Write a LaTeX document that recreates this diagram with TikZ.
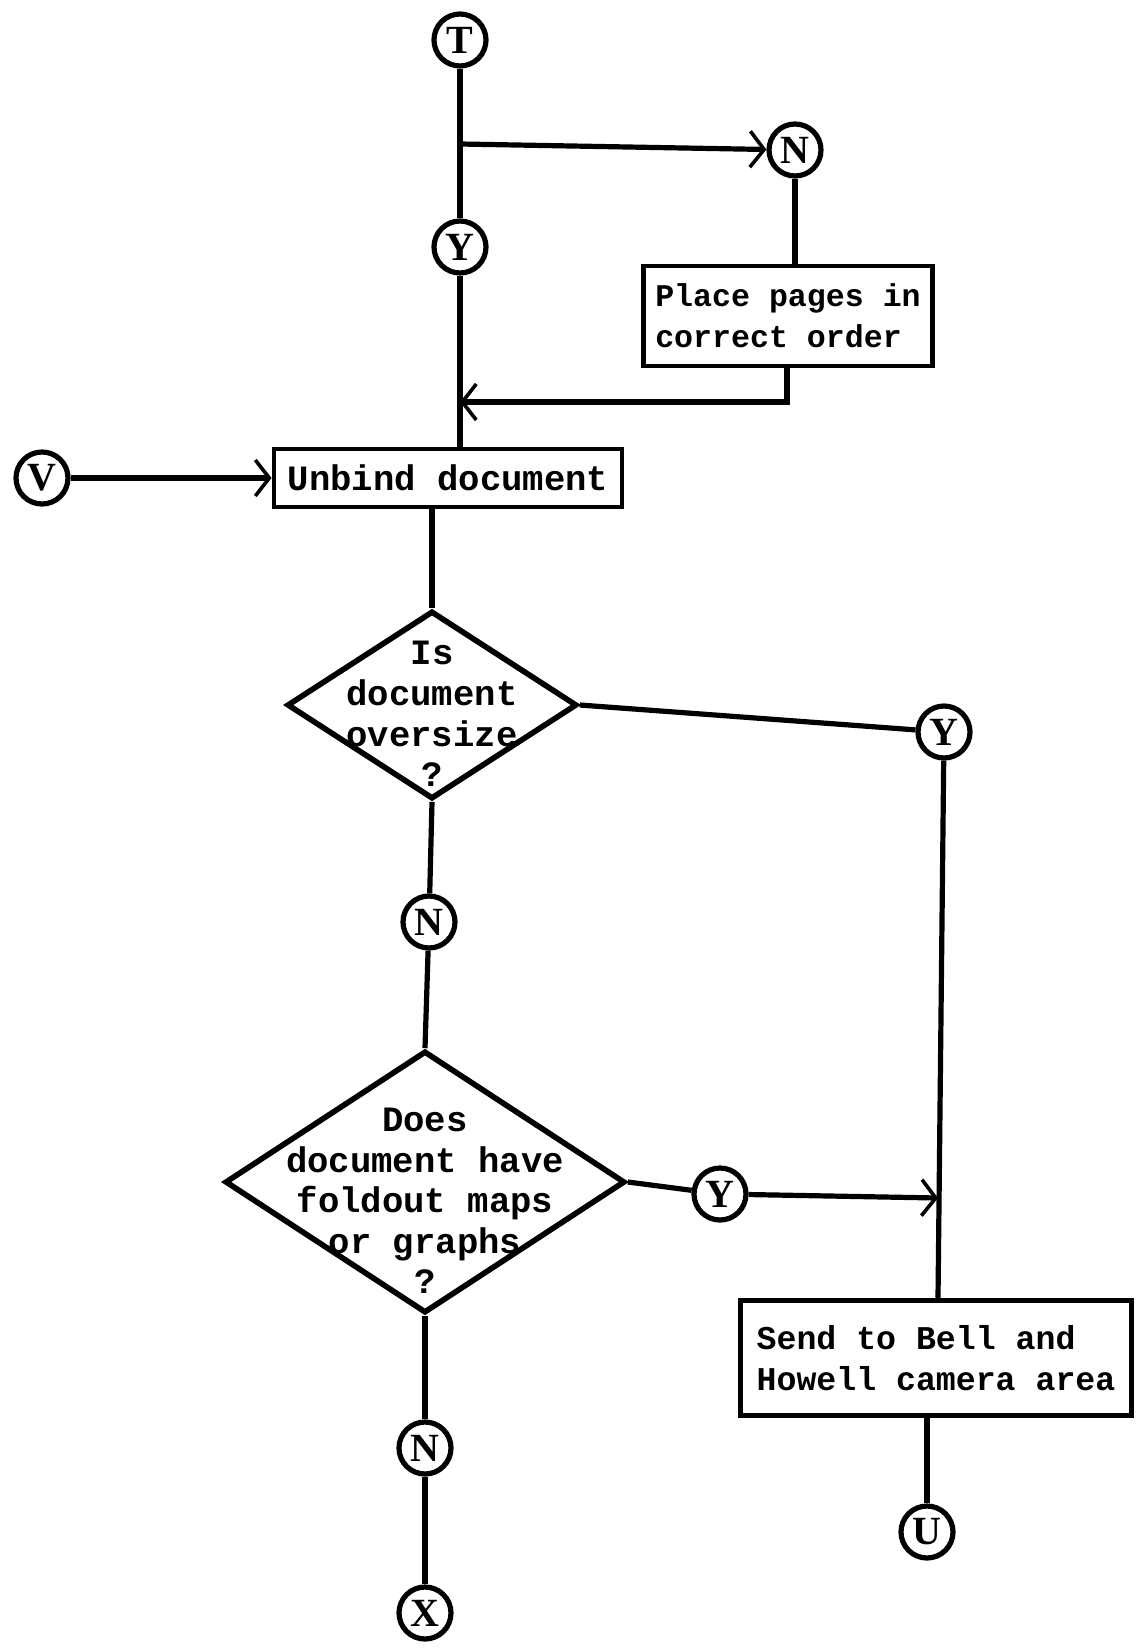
\documentclass[tikz,border=0pt]{standalone}
\usepackage{fontspec}
\usetikzlibrary{shapes.geometric,arrows.meta}
\newfontfamily\typefont{Liberation Mono}
\newfontfamily\markfont{Liberation Serif}
\newcommand\typesize[1]{\typefont\bfseries\fontsize{#1}{20.3}\selectfont}
\begin{document}
\begin{tikzpicture}[x=0.5pt,y=-0.5pt,
  conn/.style={draw, circle, line width=2.6pt, minimum size=26pt, inner sep=0pt,
    font=\markfont\bfseries\fontsize{20}{20}\selectfont},
  proc/.style={draw, rectangle, line width=2.4pt, inner sep=0pt, align=left,
    font=\typesize{17}},
  decision/.style={draw, diamond, line width=2.8pt, inner sep=0pt},
  qtext/.style={align=center, inner sep=0pt, font=\typesize{17.8}},
  flow/.style={line width=2.6pt},
  arrow/.style={flow, -{Straight Barb[length=7pt,width=18pt,line width=1.8pt]}},
]
\useasboundingbox (0,0) rectangle (1142,1648);

% connectors and process steps
\node[conn] (t) at (460,40) {T};
\node[conn] (n1) at (795,150) {N};
\node[conn] (y1) at (460,247) {Y};
\node[proc, font=\typesize{15.8}, minimum width=144.5pt, minimum height=50pt]
  (place) at (788,316) {Place pages in\\correct order};
\node[proc, font=\typesize{17.8}, minimum width=174pt, minimum height=29pt]
  (unbind) at (448,478) {Unbind document};
\node[conn] (v) at (42,478) {V};

% first decision
\node[decision, minimum width=145pt, minimum height=94pt] (d1) at (432,705) {};
\node[qtext] (q1) at (432,714) {Is\\document\\oversize\\?};
\node[conn] (y2) at (944,732) {Y};
\node[conn] (n2) at (429,922) {N};

% second decision
\node[decision, minimum width=200pt, minimum height=131pt] (d2) at (425,1182) {};
\node[qtext] (q2) at (425,1201) {Does\\document have\\foldout maps\\or graphs\\?};
\node[conn] (y3) at (720,1194) {Y};
\node[proc, font=\typesize{16.6}, minimum width=195.5pt, minimum height=57.5pt]
  (send) at (936,1358) {Send to Bell and\\Howell camera area};
\node[conn] (u) at (927,1532) {U};
\node[conn] (n3) at (425,1448) {N};
\node[conn] (x) at (425,1613) {X};

% branch points
\coordinate (b1) at (460,144);
\coordinate (r1) at (787,402);
\coordinate (r2) at (460,402);
\coordinate (j1) at (938,1198);

% top section
\draw[flow] (t) -- (y1);
\draw[arrow] (b1) -- (n1);
\draw[flow] (n1) -- (n1 |- place.north);
\draw[arrow] (place.south -| r1) -- (r1) -- (r2);
\draw[flow] (y1) -- (y1 |- unbind.north);
\draw[arrow] (v) -- (unbind.west);
\draw[flow] (d1.north |- unbind.south) -- (d1.north);

% decisions
\draw[flow] (d1.east) -- (y2);
\draw[flow] (y2) -- (j1 |- send.north);
\draw[flow] (d1.south) -- (n2);
\draw[flow] (n2) -- (d2.north);
\draw[flow] (d2.east) -- (y3);
\draw[arrow] (y3) -- (j1);
\draw[flow] (u |- send.south) -- (u);
\draw[flow] (d2.south) -- (n3);
\draw[flow] (n3) -- (x);
\end{tikzpicture}
\end{document}
